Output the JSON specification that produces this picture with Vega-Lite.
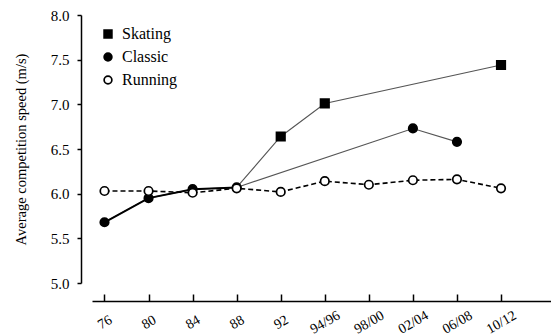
{
  "$schema": "https://vega.github.io/schema/vega-lite/v6.json",
  "width": 459,
  "height": 268,
  "autosize": "none",
  "padding": {"left": 92, "top": 15, "right": 0, "bottom": 52},
  "background": "white",
  "config": {
    "view": {"stroke": null},
    "font": "Liberation Serif",
    "axis": {"grid": false, "domainColor": "black", "tickColor": "black", "labelColor": "black", "titleColor": "black", "labelFont": "Liberation Serif", "titleFont": "Liberation Serif", "domainWidth": 1.5, "tickWidth": 1.5},
    "legend": {"labelFont": "Liberation Serif", "title": null, "orient": "none", "legendX": 8, "legendY": 11, "padding": 0, "labelFontSize": 16, "labelColor": "black", "rowPadding": 7, "labelOffset": 6, "symbolSize": 60, "symbolStrokeWidth": 1.7}
  },
  "data": {
    "values": [
      {"series": "Skating", "year": "88", "speed": 6.07},
      {"series": "Skating", "year": "92", "speed": 6.64},
      {"series": "Skating", "year": "94/96", "speed": 7.01},
      {"series": "Skating", "year": "10/12", "speed": 7.44},
      {"series": "Classic", "year": "76", "speed": 5.68},
      {"series": "Classic", "year": "80", "speed": 5.95},
      {"series": "Classic", "year": "84", "speed": 6.05},
      {"series": "Classic", "year": "88", "speed": 6.07},
      {"series": "Classic", "year": "02/04", "speed": 6.73},
      {"series": "Classic", "year": "06/08", "speed": 6.58},
      {"series": "Running", "year": "76", "speed": 6.03},
      {"series": "Running", "year": "80", "speed": 6.03},
      {"series": "Running", "year": "84", "speed": 6.01},
      {"series": "Running", "year": "88", "speed": 6.06},
      {"series": "Running", "year": "92", "speed": 6.02},
      {"series": "Running", "year": "94/96", "speed": 6.14},
      {"series": "Running", "year": "98/00", "speed": 6.10},
      {"series": "Running", "year": "02/04", "speed": 6.15},
      {"series": "Running", "year": "06/08", "speed": 6.16},
      {"series": "Running", "year": "10/12", "speed": 6.06}
    ]
  },
  "encoding": {
    "x": {
      "field": "year", "type": "ordinal",
      "scale": {"type": "point", "domain": ["76", "80", "84", "88", "92", "94/96", "98/00", "02/04", "06/08", "10/12"], "padding": 0.709, "align": 0.2},
      "axis": {"title": null, "offset": 18, "labelAngle": -30, "labelAlign": "center", "labelBaseline": "middle", "labelFontSize": 14, "tickSize": -7, "labelPadding": 28}
    },
    "y": {
      "field": "speed", "type": "quantitative",
      "scale": {"domain": [5, 8], "nice": false, "zero": false},
      "axis": {"title": "Average competition speed (m/s)", "titleFontSize": 14.5, "titleFontWeight": "normal", "offset": 11, "values": [5, 5.5, 6, 6.5, 7, 7.5, 8], "format": ".1f", "labelFontSize": 15, "tickSize": 4, "labelPadding": 8, "titlePadding": 22}
    }
  },
  "layer": [
    {
      "transform": [{"filter": "datum.series != 'Running'"}],
      "mark": {"type": "line", "color": "#555555", "strokeWidth": 1.1},
      "encoding": {"detail": {"field": "series"}}
    },
    {
      "transform": [{"filter": "datum.series == 'Classic' && indexof(['76','80','84','88'], datum.year) >= 0"}],
      "mark": {"type": "line", "color": "black", "strokeWidth": 2}
    },
    {
      "transform": [{"filter": "datum.series == 'Running'"}],
      "mark": {"type": "line", "color": "black", "strokeWidth": 1.6, "strokeDash": [5, 3]}
    },
    {
      "transform": [{"filter": "!(datum.series == 'Skating' && datum.year == '88')"}],
      "mark": {"type": "point", "filled": true, "strokeWidth": 1.7, "size": 72, "opacity": 1},
      "encoding": {
        "shape": {
          "field": "series", "type": "nominal",
          "scale": {"domain": ["Skating", "Classic", "Running"], "range": ["square", "circle", "circle"]},
          "legend": {}
        },
        "fill": {
          "field": "series", "type": "nominal",
          "scale": {"domain": ["Skating", "Classic", "Running"], "range": ["black", "black", "white"]},
          "legend": {}
        },
        "stroke": {
          "field": "series", "type": "nominal",
          "scale": {"domain": ["Skating", "Classic", "Running"], "range": ["black", "black", "black"]},
          "legend": {}
        }
      }
    }
  ]
}
